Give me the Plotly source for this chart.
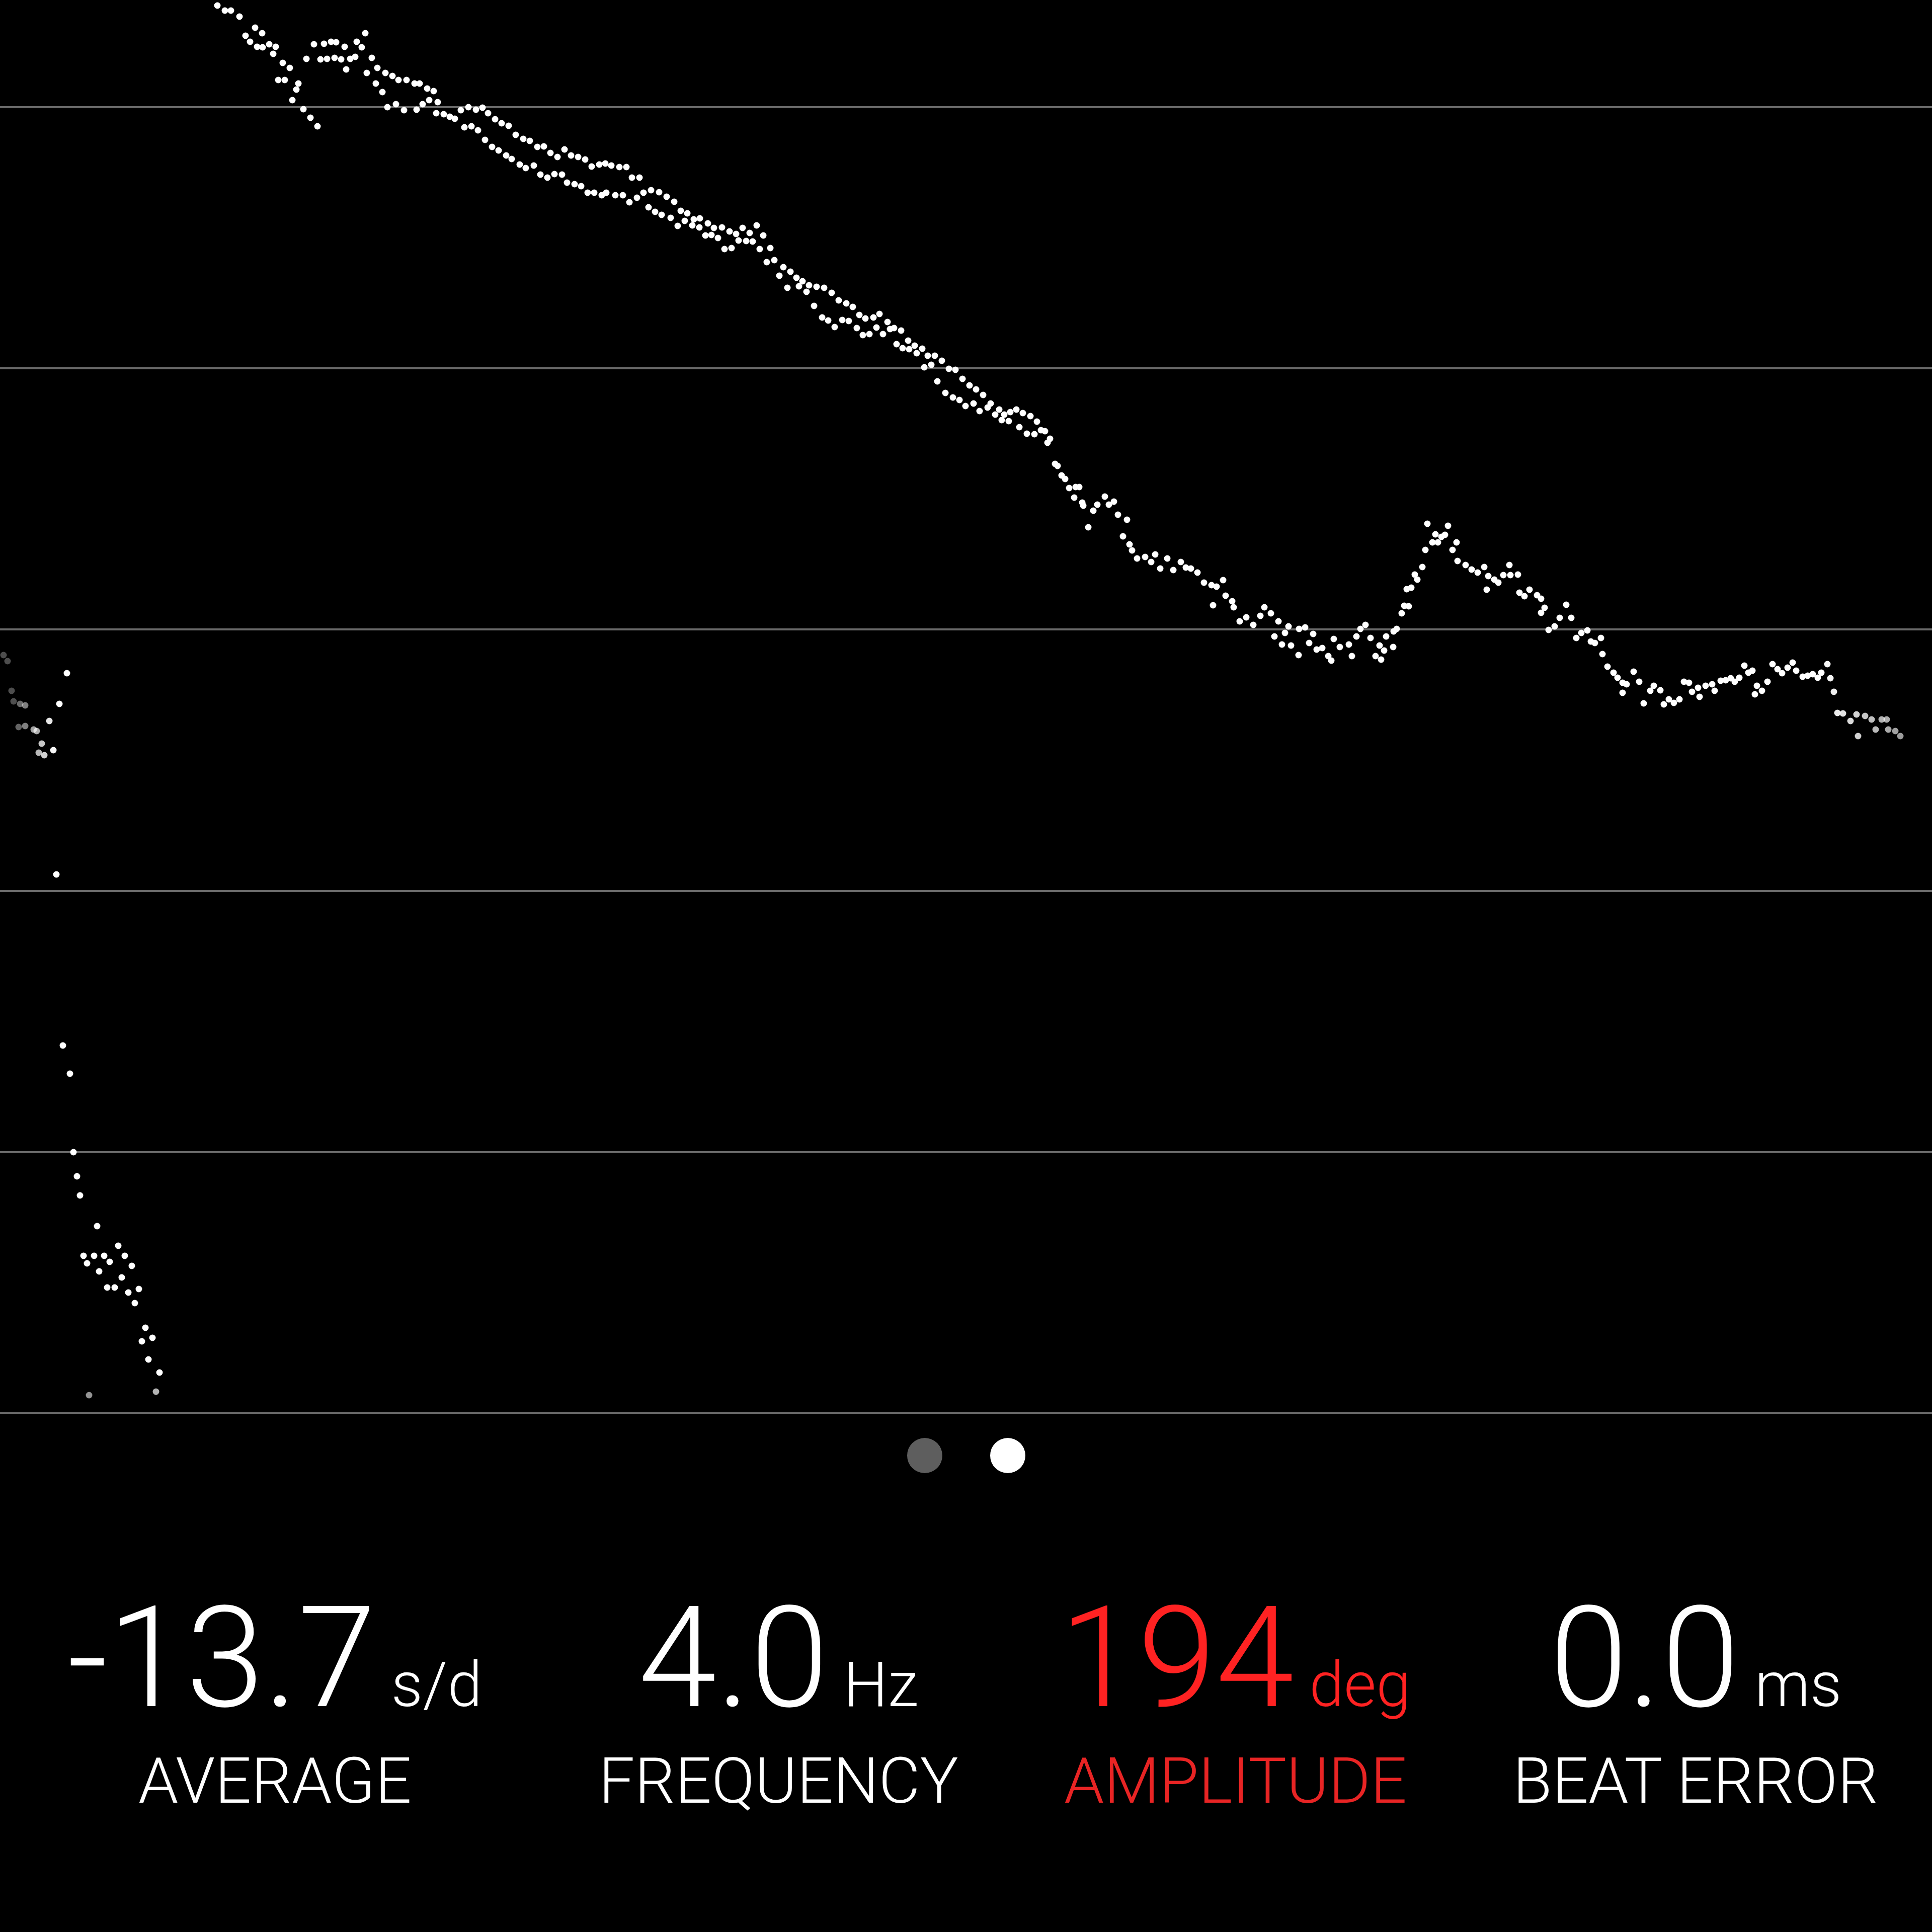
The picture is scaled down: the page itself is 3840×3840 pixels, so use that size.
import plotly.graph_objects as go
import numpy as np

# ---- data: beat trace (x = beat position along the strip, y = offset on the strip, downwards) ----
beat_x = [
    432, 447, 459, 476, 507, 521, 488, 497, 511, 522, 535, 548, 543, 562, 576, 553, 566, 593, 589, 581,
    603, 617, 631, 624, 644, 658, 668, 685, 709, 719, 726, 609, 637, 650, 665, 678, 696, 706, 688, 739,
    750, 729, 747, 760, 766, 780, 792, 808, 824, 834, 849, 862, 870, 770, 787, 803, 828, 840, 853, 867,
    882, 894, 904, 916, 931, 946, 959, 970, 984, 997, 1011, 923, 937, 950, 964, 978, 991, 1006, 1017, 1025,
    1040, 1053, 1068, 1081, 1094, 1108, 1122, 1135, 1149, 1163, 1176, 1191, 1033, 1045, 1061, 1074, 1088, 1102, 1117, 1127,
    1142, 1155, 1168, 1181, 1196,
    1203, 1215, 1231, 1245, 1256, 1271,
    1205, 1223, 1238, 1251, 1266, 1279, 1294, 1310, 1325, 1340, 1353, 1366, 1379, 1391, 1407, 1419, 1435, 1450, 1463, 1476,
    1490, 1504, 1517, 1531, 1510, 1524, 1539, 1557, 1571, 1583, 1595, 1608, 1623, 1638, 1653, 1667, 1682, 1695, 1708, 1720,
    1736, 1748, 1764, 1777, 1791, 1805, 1818, 1833, 1844, 1858, 1872, 1886, 1899, 1913, 1927, 1940, 1954, 1969, 1986, 1996,
    1289, 1302, 1315, 1333, 1347, 1361, 1376, 1390, 1402, 1414, 1427, 1440, 1454, 1468, 1483, 1496, 1549, 1565, 1588, 1603,
    1618, 1634, 1646, 1659, 1674, 1687, 1703, 1715, 1728, 1742, 1755, 1769, 1782, 1794, 1807, 1822, 1837, 1851, 1863, 1879,
    1894, 1907, 1919, 1935, 1947, 1963, 1978, 1991,
    2008, 2020, 2033, 2048, 2061, 2077, 2087, 2082, 2005, 2026, 2041, 2056, 2069, 2097, 2102, 2110, 2117, 2125, 2138, 2145,
    2135, 2151, 2153, 2173, 2181, 2196, 2204, 2214, 2222, 2240, 2163, 2232, 2245, 2250, 2260, 2276, 2288, 2296, 2306, 2320,
    2332, 2347, 2357, 2367, 2380, 2393, 2408, 2418, 2431, 2436, 2411, 2452, 2449, 2464, 2477, 2491, 2505, 2513, 2526, 2541,
    2561, 2582, 2594, 2610, 2533, 2554, 2548, 2566, 2602, 2617, 2651, 2663, 2681, 2696, 2704, 2714, 2724, 2742, 2755, 2770,
    2776, 2786, 2791, 2796, 2581, 2628, 2640, 2646, 2687, 2734, 2745, 2751, 2769,
    2837, 2878, 2853, 2872, 2865, 2847, 2858, 2833, 2895, 2887, 2827, 2812, 2817, 2805, 2800, 2897, 2913, 2925, 2937, 2950,
    2958, 2970, 2978, 2988, 3000, 3002, 3017, 2955, 3020, 3030, 3040, 3055, 3063, 3070, 3063, 3113, 3100, 3123, 3078, 3090,
    3133, 3143, 3155, 3162, 3170, 3182, 3185, 3195, 3207, 3215, 3225, 3225, 3233, 3247, 3258, 3267, 3280, 3287, 3300, 3307,
    3317,
    3327, 3338, 3347, 3357, 3363, 3378, 3375, 3390, 3403, 3408, 3420, 3430, 3440, 3448, 3457, 3467, 3475, 3483, 3488, 3492,
    3502, 3513, 3523, 3533, 3542, 3553, 3563, 3570, 3583, 3593, 3603, 3613, 3620, 3632, 3638, 3645, 3652, 3663, 3678, 3690,
    3707, 3693, 3720, 3728, 3740, 3750, 3753, 3767, 3777,
    7, 15, 23, 27, 40, 50, 37, 50, 67, 73, 83, 77, 88,
    133, 118, 98, 106, 112, 125, 139, 146, 153, 159, 193, 235, 248, 262, 166, 187, 207, 173, 197, 218, 242, 213,
    228, 255, 276, 268, 289, 303, 282, 295, 317, 310, 177,
]
offset_y = [
    11, 21, 21, 33, 55, 66, 71, 83, 93, 94, 88, 93, 107, 125, 135, 159, 159, 166, 178, 199,
    217, 234, 251, 88, 87, 83, 84, 93, 83, 94, 66, 117, 118, 117, 115, 118, 117, 113, 138, 115,
    135, 145, 166, 183, 145, 151, 159, 159, 166, 166, 176, 181, 203, 213, 207, 219, 218, 207, 199, 225,
    227, 232, 236, 219, 213, 218, 214, 225, 237, 245, 250, 253, 251, 259, 278, 292, 299, 309, 316, 268,
    276, 280, 292, 291, 304, 312, 297, 309, 312, 317, 331, 327, 327, 334, 329, 347, 353, 346, 347, 363,
    366, 370, 383, 383, 388,
    325, 329, 332, 332, 353, 353,
    383, 388, 388, 402, 393, 383, 378, 382, 391, 401, 419, 424, 436, 434, 444, 453, 452, 460, 465, 453,
    463, 448, 468, 493, 495, 521, 517, 531, 540, 552, 559, 567, 570, 572, 582, 597, 603, 610, 626, 633,
    631, 624, 640, 652, 657, 677, 687, 693, 707, 707, 717, 733, 735, 753, 766, 774, 785, 802, 814, 824,
    412, 421, 427, 433, 449, 439, 448, 452, 468, 467, 473, 495, 493, 478, 479, 480, 548, 572, 569, 580,
    608, 631, 637, 650, 636, 638, 652, 666, 664, 651, 664, 654, 684, 692, 694, 702, 730, 725, 758, 781,
    790, 795, 807, 802, 817, 810, 824, 835,
    819, 814, 821, 827, 838, 857, 872, 880, 837, 849, 862, 863, 855, 922, 926, 945, 952, 970, 968, 968,
    989, 999, 1005, 1015, 1003, 987, 1003, 997, 1023, 1033, 1048, 1066, 1082, 1094, 1110, 1107, 1117, 1102, 1130, 1110,
    1133, 1117, 1128, 1130, 1138, 1158, 1163, 1166, 1153, 1184, 1203, 1207, 1195, 1235, 1227, 1242, 1224, 1207, 1219, 1235,
    1245, 1250, 1247, 1260, 1265, 1258, 1281, 1283, 1278, 1291, 1270, 1286, 1281, 1265, 1250, 1242, 1268, 1283, 1265, 1255,
    1250, 1219, 1204, 1171, 1302, 1288, 1304, 1313, 1304, 1304, 1311, 1293, 1286,
    1041, 1045, 1062, 1063, 1067, 1078, 1078, 1093, 1078, 1093, 1127, 1142, 1152, 1168, 1205, 1115, 1123, 1132, 1138, 1127,
    1145, 1152, 1158, 1143, 1123, 1143, 1142, 1172, 1178, 1185, 1172, 1183, 1190, 1208, 1218, 1202, 1228, 1228, 1252, 1245,
    1268, 1258, 1253, 1275, 1278, 1268, 1300, 1325, 1337, 1347, 1357, 1377, 1360, 1335, 1355, 1398, 1373, 1363, 1372, 1400,
    1390,
    1397, 1390, 1355, 1357, 1375, 1385, 1367, 1363, 1360, 1373, 1353, 1352, 1348, 1355, 1347, 1323, 1337, 1333, 1380, 1363,
    1373, 1355, 1320, 1330, 1338, 1327, 1317, 1333, 1345, 1343, 1340, 1347, 1337, 1320, 1348, 1375, 1417, 1418, 1433, 1420,
    1423, 1463, 1430, 1450, 1430, 1430, 1450, 1453, 1463,
    1302, 1314, 1373, 1394, 1399, 1402, 1445, 1443, 1450, 1453, 1478, 1496, 1501,
    1338, 1399, 1433, 1491, 1738, 2078, 2134, 2290, 2338, 2376, 2437, 2476, 2496, 2516, 2496, 2496, 2496, 2511, 2527, 2508, 2539, 2559,
    2559, 2569, 2562, 2590, 2639, 2659, 2666, 2702, 2728, 2766, 2773,
]

grid_levels = [213, 732, 1251, 1771, 2290, 2808]

readings = ["-13.7", "4.0", "194", "0.0"]
units = ["s/d", "Hz", "deg", "ms"]
labels = ["AVERAGE", "FREQUENCY", "AMPLITUDE", "BEAT ERROR"]

# ---- styling ----
W = H = 3840
PLOT_BOTTOM = 2830
FONT = "Roboto"
LABEL_SIZE = 127
NUM_SIZE = 280
UNIT_SIZE = 124
NUM_BASELINE = 3392
LABEL_BASELINE = 3584

bx = np.array(beat_x, dtype=float)
oy = np.array(offset_y, dtype=float)
a_left = np.clip((bx + 10) / 120.0, 0.3, 1.0)
a_right = np.clip((W - bx) / 400.0 + 0.45, 0.3, 1.0)
a_bot = np.clip((2808 - oy) / 60.0, 0.3, 1.0)
alpha = np.minimum(np.minimum(a_left, a_right), a_bot)
dot_colors = [f"rgba(255,255,255,{a:.2f})" for a in alpha]

fig = go.Figure(
    go.Scatter(
        x=beat_x, y=offset_y, mode="markers",
        marker=dict(size=13, color=dot_colors, line=dict(width=0)),
        hoverinfo="skip", showlegend=False,
    )
)


def py(Y):
    return (PLOT_BOTTOM - Y) / PLOT_BOTTOM


def px(X):
    return X / W


col_centers = [546, 1547, 2455, 3370]
num_colors = ["#ffffff", "#ffffff", "#ff2222", "#ffffff"]
lab_colors = ["#ffffff", "#ffffff", "#e82424", "#ffffff"]

annotations = []
for i in range(4):
    annotations.append(dict(
        x=px(col_centers[i]), y=py(NUM_BASELINE + 0.244 * NUM_SIZE + 1), xref="paper", yref="paper",
        xanchor="center", yanchor="bottom", showarrow=False,
        text=f"{readings[i]}<span style='font-size:{UNIT_SIZE}px'> {units[i]}</span>",
        font=dict(family=FONT, size=NUM_SIZE, color=num_colors[i], weight=300),
    ))
    annotations.append(dict(
        x=px(col_centers[i]), y=py(LABEL_BASELINE + 0.244 * LABEL_SIZE + 1), xref="paper", yref="paper",
        xanchor="center", yanchor="bottom", showarrow=False,
        text=labels[i],
        font=dict(family=FONT, size=LABEL_SIZE, color=lab_colors[i], weight=300),
    ))

shapes = []
for cx, col in [(1838, "#5e5e5e"), (2003, "#ffffff")]:
    shapes.append(dict(
        type="circle", xref="paper", yref="paper",
        x0=px(cx - 35), x1=px(cx + 35), y0=py(2893 + 35), y1=py(2893 - 35),
        fillcolor=col, line=dict(width=0),
    ))

fig.update_layout(
    width=W, height=H,
    margin=dict(l=0, r=0, t=0, b=H - PLOT_BOTTOM, pad=0),
    paper_bgcolor="#000000", plot_bgcolor="#000000",
    xaxis=dict(range=[0, W], showgrid=False, zeroline=False, showticklabels=False,
               showline=False, ticks="", fixedrange=True),
    yaxis=dict(range=[PLOT_BOTTOM, 0], tickvals=grid_levels, showgrid=True,
               gridcolor="#6a6a6a", gridwidth=4, zeroline=False, showticklabels=False,
               showline=False, ticks="", fixedrange=True),
    annotations=annotations, shapes=shapes,
)

fig.write_html("out.html", config={"displayModeBar": False},
               post_script="document.body.style.margin='0';document.body.style.overflow='hidden';")
